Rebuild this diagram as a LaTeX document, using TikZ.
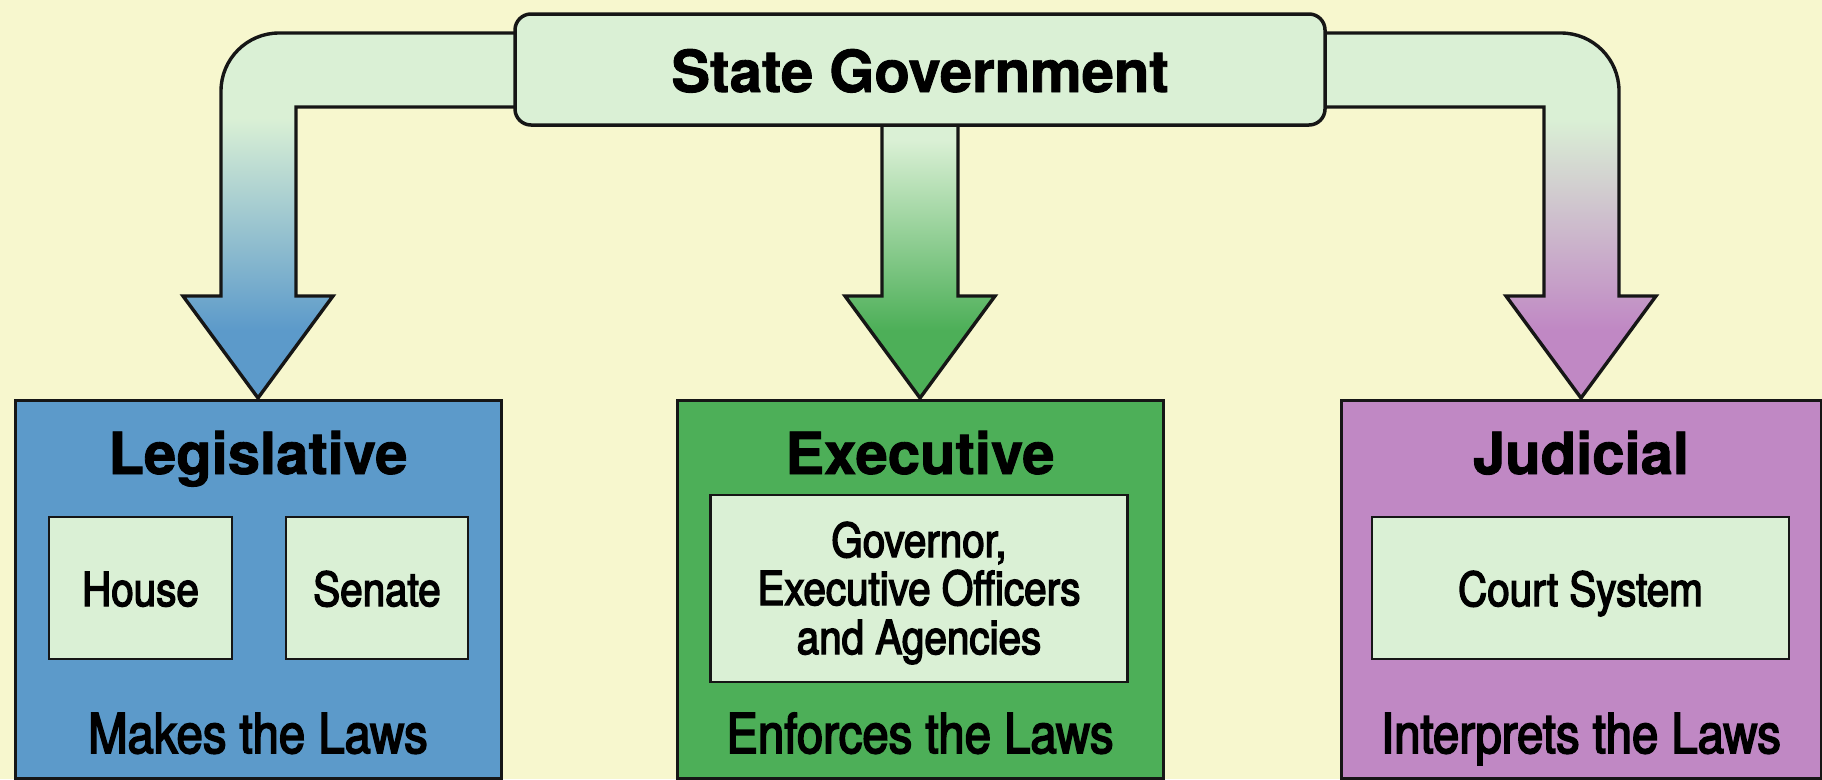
\documentclass[tikz,border=0pt]{standalone}
\usepackage{fontspec}
\setmainfont{TeX Gyre Heros}
\newfontfamily\condfont[FakeStretch=0.86,FakeBold=3]{TeX Gyre Heros}
\newfontfamily\headfont[FakeBold=1.5]{TeX Gyre Heros Bold}
\definecolor{bg}{RGB}{247,247,206}
\definecolor{lgreen}{RGB}{218,240,213}
\definecolor{legblue}{RGB}{92,154,202}
\definecolor{exgreen}{RGB}{77,175,88}
\definecolor{jpurple}{RGB}{192,136,196}
\definecolor{edge}{RGB}{22,22,22}
\begin{document}
\begin{tikzpicture}[x=1pt,y=-1pt,
  branch/.style={draw=edge, line width=3pt, minimum width=486pt, minimum height=378pt, inner sep=0pt, anchor=north},
  sub/.style={draw=edge, fill=lgreen, line width=2.6pt, inner sep=0pt},
  title/.style={font=\headfont\fontsize{58}{60}\selectfont, anchor=base, inner sep=0pt},
  subtext/.style={font=\condfont\fontsize{47}{49}\selectfont, anchor=base, inner sep=0pt},
  law/.style={font=\condfont\fontsize{55}{57}\selectfont, anchor=base, inner sep=0pt},
  arrowline/.style={draw=edge, line width=3.4pt, line join=miter},
]
\fill[bg] (0,0) rectangle (1822,779);
\useasboundingbox (0,0) rectangle (1822,779);

% left arrow
\begin{scope}
\clip (530,33) -- (279,33) .. controls (247,33) and (221,59) .. (221,91) -- (221,296) -- (183,296) -- (258,398) -- (333,296) -- (296,296) -- (296,107) -- (530,107) -- cycle;
\fill[lgreen] (150,0) rectangle (560,400);
\shade[top color=lgreen, bottom color=legblue] (150,118) rectangle (560,330);
\fill[legblue] (150,330) rectangle (560,400);
\end{scope}
\draw[arrowline] (530,33) -- (279,33) .. controls (247,33) and (221,59) .. (221,91) -- (221,296) -- (183,296) -- (258,398) -- (333,296) -- (296,296) -- (296,107) -- (530,107) -- cycle;

% center arrow
\begin{scope}
\clip (882,110) -- (882,296) -- (845,296) -- (920,398) -- (995,296) -- (958,296) -- (958,110) -- cycle;
\fill[lgreen] (800,100) rectangle (1040,400);
\shade[top color=lgreen, bottom color=exgreen] (800,140) rectangle (1040,330);
\fill[exgreen] (800,330) rectangle (1040,400);
\end{scope}
\draw[arrowline] (882,110) -- (882,296) -- (845,296) -- (920,398) -- (995,296) -- (958,296) -- (958,110) -- cycle;

% right arrow
\begin{scope}
\clip (1310,33) -- (1561,33) .. controls (1593,33) and (1619,59) .. (1619,91) -- (1619,296) -- (1656,296) -- (1581,398) -- (1506,296) -- (1544,296) -- (1544,107) -- (1310,107) -- cycle;
\fill[lgreen] (1280,0) rectangle (1700,400);
\shade[top color=lgreen, bottom color=jpurple] (1280,118) rectangle (1700,330);
\fill[jpurple] (1280,330) rectangle (1700,400);
\end{scope}
\draw[arrowline] (1310,33) -- (1561,33) .. controls (1593,33) and (1619,59) .. (1619,91) -- (1619,296) -- (1656,296) -- (1581,398) -- (1506,296) -- (1544,296) -- (1544,107) -- (1310,107) -- cycle;

% state government
\node[draw=edge, fill=lgreen, line width=3.5pt, rounded corners=16pt, minimum width=810pt, minimum height=111pt, inner sep=0pt] (sg) at (920,69.5) {};
\node[title] (sgt) at (920,92) {State Government};

% branches
\node[branch, fill=legblue] (leg) at (258,399) {};
\node[branch, fill=exgreen] (exe) at (920,399) {};
\node[branch, fill=jpurple, minimum width=480pt] (jud) at (1581,399) {};

\node[title] (legt) at (258,474) {Legislative};
\node[title] (exet) at (920,474) {Executive};
\node[title] (judt) at (1581,474) {Judicial};

\node[sub, minimum width=183pt, minimum height=142pt] (house) at (140.5,588) {};
\node[sub, minimum width=182pt, minimum height=142pt] (senate) at (377,588) {};
\node[sub, minimum width=417pt, minimum height=187pt] (gov) at (919,588.5) {};
\node[sub, minimum width=417pt, minimum height=142pt] (court) at (1580.5,588) {};

\node[subtext] (houset) at (140.5,606) {House};
\node[subtext] (senatet) at (377,606) {Senate};
\node[subtext] (gov1) at (919,557) {Governor,};
\node[subtext] (gov2) at (919,605) {Executive Officers};
\node[subtext] (gov3) at (919,654) {and Agencies};
\node[subtext] (courtt) at (1580.5,606) {Court System};

\node[law] (legl) at (258,753) {Makes the Laws};
\node[law] (exel) at (920,753) {Enforces the Laws};
\node[law] (judl) at (1581,753) {Interprets the Laws};
\end{tikzpicture}
\end{document}
